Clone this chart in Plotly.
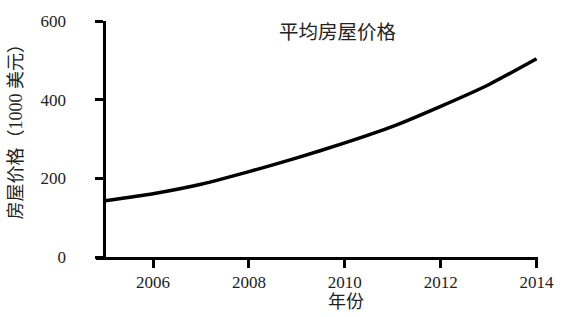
import plotly.graph_objects as go

years = [2005, 2006, 2007, 2008, 2009, 2010, 2011, 2012, 2013, 2014]
prices = [143, 161, 185, 217, 252, 290, 332, 383, 438, 504]

x_ticks = [2006, 2008, 2010, 2012, 2014]
y_ticks = [0, 200, 400, 600]

title_text = "平均房屋价格"
x_title = "年份"
y_title = "房屋价格（1000 美元）"

SERIF = "'Liberation Serif', 'Times New Roman', serif"
CJK = "'Liberation Serif', 'Noto Sans CJK SC'"
TXT = "#222222"

fig = go.Figure()
fig.add_trace(go.Scatter(
    x=years, y=prices, mode="lines",
    line=dict(color="black", width=3.5, shape="spline", smoothing=0.6),
    showlegend=False, hoverinfo="skip",
))

L, R, T, B = 96, 542, 14, 257
W, H = 566, 317

fig.update_layout(
    width=W, height=H,
    margin=dict(l=L, r=W - R, t=T, b=H - B),
    plot_bgcolor="white", paper_bgcolor="white",
    font=dict(family=SERIF, color=TXT, size=17),
)

fig.update_xaxes(
    range=[2004.81, 2014.03], tickvals=x_ticks,
    ticks="outside", ticklen=8, tickwidth=2.5, tickcolor="black",
    showline=True, linewidth=3, linecolor="black",
    showgrid=False, zeroline=False,
    tickfont=dict(family=SERIF, size=17, color=TXT),
)

ypos = (104.5 - L) / (R - L)
fig.update_yaxes(
    range=[0, 600], tickvals=y_ticks,
    anchor="free", position=ypos,
    ticks="outside", ticklen=8, tickwidth=2.5, tickcolor="black",
    showline=True, linewidth=3, linecolor="black",
    showgrid=False, zeroline=False,
    ticklabelstandoff=26,
    tickfont=dict(family=SERIF, size=17, color=TXT),
)

pw, ph = R - L, B - T
fig.add_annotation(
    text=title_text, xref="paper", yref="paper",
    x=(340 - L) / pw, y=(B - 26) / ph, showarrow=False,
    xanchor="center", yanchor="middle",
    font=dict(family=CJK, size=19.5, color=TXT),
)
fig.add_annotation(
    text=x_title, xref="paper", yref="paper",
    x=(348 - L) / pw, y=(B - 303) / ph, showarrow=False,
    xanchor="center", yanchor="middle",
    font=dict(family=CJK, size=18, color=TXT),
)
fig.add_annotation(
    text=y_title, xref="paper", yref="paper",
    x=(15 - L) / pw, y=(B - 123) / ph, showarrow=False,
    xanchor="center", yanchor="middle", textangle=-90,
    font=dict(family=CJK, size=18, color=TXT),
)

fig.write_html("out.html")
